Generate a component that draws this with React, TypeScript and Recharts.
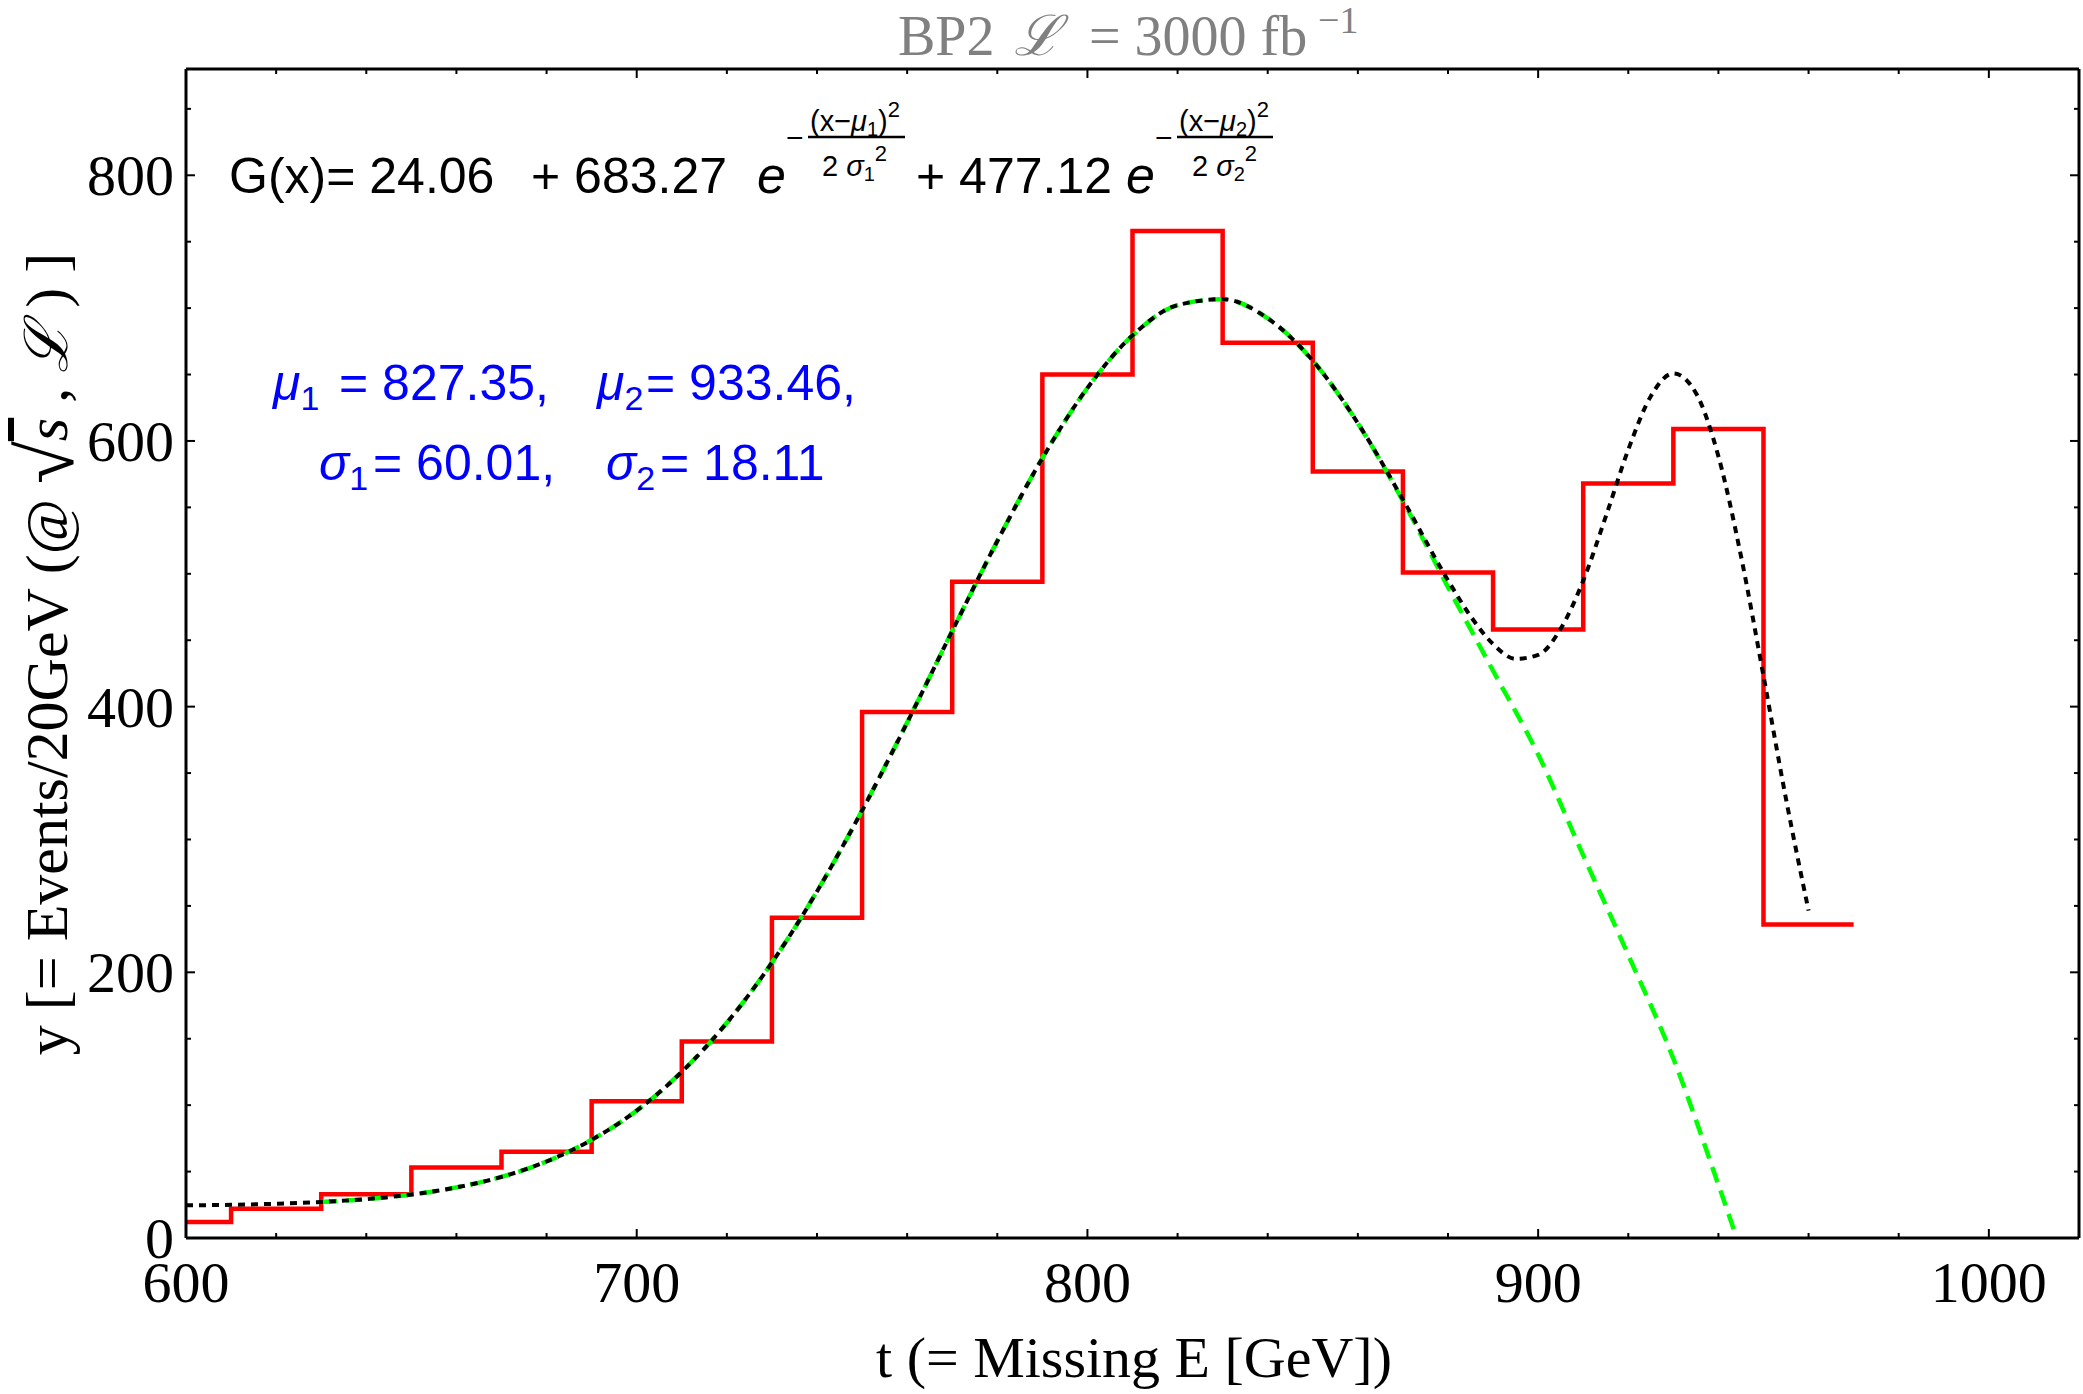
import React from 'react';
import { LineChart, Line, XAxis, YAxis } from 'recharts';

// ---------- data ----------
// histogram: bin centres (GeV) and events per 20 GeV bin
const binCenters = [600, 620, 640, 660, 680, 700, 720, 740, 760, 780, 800, 820, 840, 860, 880, 900, 920, 940, 960];
const binCounts = [12, 22, 33, 53, 65, 103, 148, 241, 396, 494, 650, 758, 674, 577, 501, 458, 568, 609, 236];
const binHalfWidth = 10;

// black dotted curve G(x)
const fitX = [600, 610, 620, 630, 640, 650, 660, 670, 680, 690, 700, 710, 720, 730, 740, 750, 760, 770, 780, 790, 800, 810, 820, 830, 840, 850, 860, 870, 880, 885, 890, 895, 900, 905, 910, 915, 920, 925, 930, 935, 940, 945, 950, 955, 960];
const fitY = [24.6, 25.0, 25.8, 27.1, 29.3, 32.7, 38.1, 46.0, 57.6, 73.9, 95.9, 125.1, 162.0, 207.3, 260.9, 321.8, 388.0, 456.9, 524.6, 587.0, 639.9, 679.4, 702.2, 706.7, 692.3, 660.4, 613.4, 555.9, 495.1, 468.1, 447.1, 436.0, 438.9, 458.6, 494.8, 543.0, 593.5, 633.7, 650.8, 636.1, 588.4, 513.4, 423.1, 330.4, 246.4];

// green dashed curve
const greenX = [630, 640, 650, 660, 670, 680, 690, 700, 710, 720, 730, 740, 750, 760, 770, 780, 790, 800, 810, 820, 830, 840, 850, 860, 870, 880, 890, 900, 910, 920, 930, 940, 950];
const greenY = [27.1, 29.3, 32.7, 38.1, 46.0, 57.6, 73.9, 95.9, 125.1, 162.0, 207.3, 260.9, 321.8, 388.0, 456.9, 524.6, 587.0, 639.9, 679.4, 702.2, 706.7, 692.3, 660.4, 613.3, 554.8, 490, 427, 364, 288, 213, 135, 40, -60];

// axes
const xMajorTicks = [600, 700, 800, 900, 1000];
const xMinorTicks = [620, 640, 660, 680, 720, 740, 760, 780, 820, 840, 860, 880, 920, 940, 960, 980];
const yMajorTicks = [0, 200, 400, 600, 800];
const yMinorTicks = [50, 100, 150, 250, 300, 350, 450, 500, 550, 650, 700, 750, 850];
const xDomain = [600, 1020];
const yDomain = [0, 880];

const xTicks = [...xMajorTicks, ...xMinorTicks].sort((a, b) => a - b);
const yTicks = [...yMajorTicks, ...yMinorTicks].sort((a, b) => a - b);

const histData = [
  ...binCenters.map((x, i) => ({ x, y: binCounts[i] })),
  { x: binCenters[binCenters.length - 1] + binHalfWidth, y: binCounts[binCounts.length - 1] },
];
const fitData = fitX.map((x, i) => ({ x, y: fitY[i] }));
const greenData = greenX.map((x, i) => ({ x, y: greenY[i] }));

// ---------- style ----------
const W = 2083;
const H = 1394;
const SERIF = '"Liberation Serif", "Times New Roman", serif';
const SANS = '"Liberation Sans", Arial, sans-serif';
const MAJOR = 9;
const MINOR = 5;
const TICK_W = 2;
const LABEL_FS = 58;

function BottomTick(props: any) {
  const { x, y, payload } = props;
  const v = payload.value;
  const major = xMajorTicks.includes(v);
  return (
    <g>
      <line x1={x} x2={x} y1={y} y2={y - (major ? MAJOR : MINOR)} stroke="#000" strokeWidth={TICK_W} />
      {major && (
        <text x={x} y={y + 64} textAnchor="middle" fontFamily={SERIF} fontSize={LABEL_FS} fill="#000">
          {v}
        </text>
      )}
    </g>
  );
}

function TopTick(props: any) {
  const { x, y, payload } = props;
  const major = xMajorTicks.includes(payload.value);
  return <line x1={x} x2={x} y1={y} y2={y + (major ? MAJOR : MINOR)} stroke="#000" strokeWidth={TICK_W} />;
}

function LeftTick(props: any) {
  const { x, y, payload } = props;
  const v = payload.value;
  const major = yMajorTicks.includes(v);
  return (
    <g>
      <line x1={x} x2={x + (major ? MAJOR : MINOR)} y1={y} y2={y} stroke="#000" strokeWidth={TICK_W} />
      {major && (
        <text x={x - 12} y={y + 20} textAnchor="end" fontFamily={SERIF} fontSize={LABEL_FS} fill="#000">
          {v}
        </text>
      )}
    </g>
  );
}

function RightTick(props: any) {
  const { x, y, payload } = props;
  const major = yMajorTicks.includes(payload.value);
  return <line x1={x} x2={x - (major ? MAJOR : MINOR)} y1={y} y2={y} stroke="#000" strokeWidth={TICK_W} />;
}

function Overlay() {
  const pre = { whiteSpace: 'pre' as const };
  return (
    <svg width={W} height={H} style={{ position: 'absolute', left: 0, top: 0, pointerEvents: 'none' }}>
      {/* title */}
      <text y={55} fontFamily={SERIF} fontSize={56} fill="#808080" style={pre}>
        <tspan x={898}>BP2</tspan>
        <tspan x={1014} fontStyle="italic" fontFamily='"DejaVu Serif", serif'>ℒ</tspan>
        <tspan x={1089}>= 3000 fb</tspan>
        <tspan x={1318} y={33} fontSize={38}>−1</tspan>
      </text>

      {/* formula */}
      <g fontFamily={SANS} fill="#000" style={pre}>
        <text x={229} y={193} fontSize={50}>G(x)= 24.06</text>
        <text x={531} y={193} fontSize={50}>+ 683.27</text>
        <text x={757} y={193} fontSize={52} fontStyle="italic">e</text>
        <text x={786} y={148} fontSize={30}>−</text>
        <line x1={808} x2={905} y1={137} y2={137} stroke="#000" strokeWidth={2.5} />
        <text x={810} y={131} fontSize={29}>
          (x−<tspan fontStyle="italic">μ</tspan>
          <tspan fontSize={20} dy={5}>1</tspan>
          <tspan dy={-5}>)</tspan>
          <tspan fontSize={22} dy={-14}>2</tspan>
        </text>
        <text x={822} y={176} fontSize={29}>
          2 <tspan fontStyle="italic">σ</tspan>
          <tspan fontSize={20} dy={5}>1</tspan>
          <tspan fontSize={22} dy={-20}>2</tspan>
        </text>

        <text x={916} y={193} fontSize={50}>+ 477.12</text>
        <text x={1126} y={193} fontSize={52} fontStyle="italic">e</text>
        <text x={1155} y={148} fontSize={30}>−</text>
        <line x1={1177} x2={1273} y1={137} y2={137} stroke="#000" strokeWidth={2.5} />
        <text x={1179} y={131} fontSize={29}>
          (x−<tspan fontStyle="italic">μ</tspan>
          <tspan fontSize={20} dy={5}>2</tspan>
          <tspan dy={-5}>)</tspan>
          <tspan fontSize={22} dy={-14}>2</tspan>
        </text>
        <text x={1192} y={176} fontSize={29}>
          2 <tspan fontStyle="italic">σ</tspan>
          <tspan fontSize={20} dy={5}>2</tspan>
          <tspan fontSize={22} dy={-20}>2</tspan>
        </text>
      </g>

      {/* parameters */}
      <g fontFamily={SANS} fill="#0000ff" fontSize={50} style={pre}>
        <text x={273} y={400}>
          <tspan fontStyle="italic">μ</tspan>
          <tspan fontSize={34} dy={10}>1</tspan>
        </text>
        <text x={339} y={400}>= 827.35,</text>
        <text x={597} y={400}>
          <tspan fontStyle="italic">μ</tspan>
          <tspan fontSize={34} dy={10}>2</tspan>
        </text>
        <text x={646} y={400}>= 933.46,</text>

        <text x={319} y={480}>
          <tspan fontStyle="italic">σ</tspan>
          <tspan fontSize={34} dy={10}>1</tspan>
        </text>
        <text x={373} y={480}>= 60.01,</text>
        <text x={606} y={480}>
          <tspan fontStyle="italic">σ</tspan>
          <tspan fontSize={34} dy={10}>2</tspan>
        </text>
        <text x={660} y={480}>= 18.11</text>
      </g>

      {/* axis titles */}
      <text x={1134} y={1377} textAnchor="middle" fontFamily={SERIF} fontSize={58} fill="#000" style={pre}>
        t (= Missing E [GeV])
      </text>
      <text
        transform="translate(67 654) rotate(-90)"
        textAnchor="middle"
        fontFamily={SERIF}
        fontSize={60}
        fill="#000"
        style={pre}
      >
        y [= Events/20GeV (@ <tspan fontSize={78} dy={6}>√</tspan>
        <tspan fontStyle="italic" textDecoration="overline" dy={-6}>s</tspan> ,{' '}
        <tspan fontStyle="italic" fontFamily='"DejaVu Serif", serif'>ℒ</tspan> ) ]
      </text>
    </svg>
  );
}

export default function App() {
  return (
    <div style={{ position: 'relative', width: W, height: H, overflow: 'hidden', background: '#fff' }}>
      <style>{'body{margin:0;background:#fff;}'}</style>
      <LineChart width={W} height={H} margin={{ top: 68, right: 3, bottom: 0, left: 0 }}>
        <XAxis
          xAxisId="b"
          type="number"
          dataKey="x"
          domain={xDomain}
          allowDataOverflow
          ticks={xTicks}
          interval={0}
          height={156}
          tickSize={0}
          tickMargin={0}
          tickLine={false}
          axisLine={{ stroke: '#000', strokeWidth: 3 }}
          tick={(p: any) => <BottomTick {...p} />}
        />
        <XAxis
          xAxisId="t"
          orientation="top"
          type="number"
          dataKey="x"
          domain={xDomain}
          allowDataOverflow
          ticks={xTicks}
          interval={0}
          height={1}
          tickSize={0}
          tickMargin={0}
          tickLine={false}
          axisLine={{ stroke: '#000', strokeWidth: 3 }}
          tick={(p: any) => <TopTick {...p} />}
        />
        <YAxis
          yAxisId="l"
          type="number"
          domain={yDomain}
          allowDataOverflow
          ticks={yTicks}
          interval={0}
          width={186}
          tickSize={0}
          tickMargin={0}
          tickLine={false}
          axisLine={{ stroke: '#000', strokeWidth: 3 }}
          tick={(p: any) => <LeftTick {...p} />}
        />
        <YAxis
          yAxisId="r"
          orientation="right"
          type="number"
          domain={yDomain}
          allowDataOverflow
          ticks={yTicks}
          interval={0}
          width={1}
          tickSize={0}
          tickMargin={0}
          tickLine={false}
          axisLine={{ stroke: '#000', strokeWidth: 3 }}
          tick={(p: any) => <RightTick {...p} />}
        />
        <Line
          xAxisId="b"
          yAxisId="l"
          data={histData}
          dataKey="y"
          type="step"
          stroke="#ff0000"
          strokeWidth={4.5}
          dot={false}
          activeDot={false}
          isAnimationActive={false}
        />
        <Line
          xAxisId="b"
          yAxisId="l"
          data={greenData}
          dataKey="y"
          type="monotone"
          stroke="#00ff00"
          strokeWidth={4.5}
          strokeDasharray="16 9"
          dot={false}
          activeDot={false}
          isAnimationActive={false}
        />
        <Line
          xAxisId="t"
          yAxisId="r"
          data={fitData}
          dataKey="y"
          type="monotone"
          stroke="#000"
          strokeWidth={4}
          strokeDasharray="7 6"
          dot={false}
          activeDot={false}
          isAnimationActive={false}
        />
      </LineChart>
      <Overlay />
    </div>
  );
}
